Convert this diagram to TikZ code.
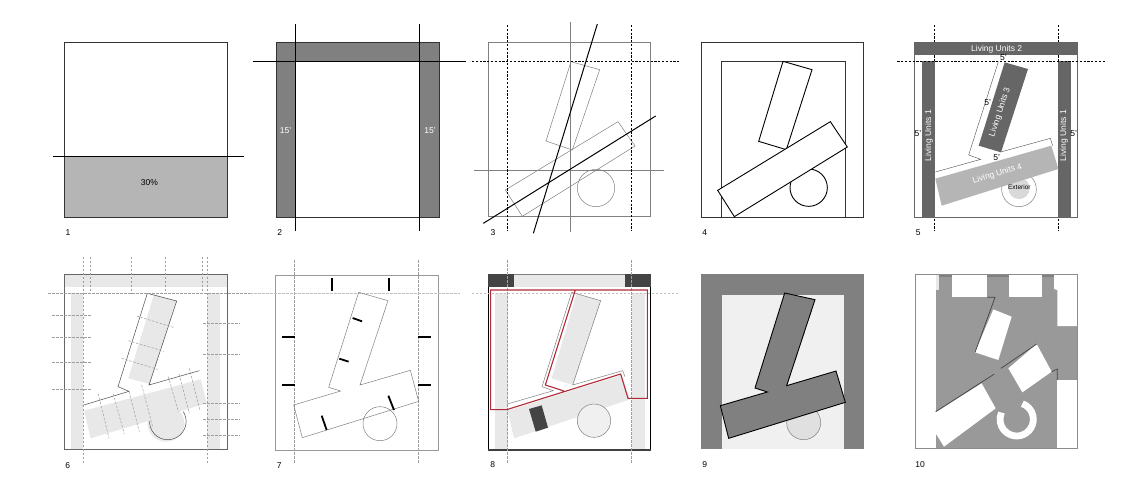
\documentclass[tikz,border=0pt]{standalone}
\usepackage{fontspec}
\setmainfont{Liberation Sans}
\definecolor{band}{HTML}{808080}
\definecolor{dark}{HTML}{666666}
\definecolor{mid}{HTML}{B5B5B5}
\definecolor{pale}{HTML}{E8E8E8}
\definecolor{paler}{HTML}{F0F0F0}
\definecolor{ink}{HTML}{444444}
\definecolor{redline}{HTML}{B02A37}
\definecolor{plan}{HTML}{999999}
\tikzset{
 zoomed/.style={x=0.33333pt,y=-0.33333pt},
 txt/.style={font=\fontsize{8.5}{10}\selectfont,inner sep=0pt},
 wtxt/.style={txt,text=white},
 frame/.style={draw=black!80,line width=0.9pt},
 guide/.style={draw=black,line width=0.9pt},
 thin gray/.style={draw=black!50,line width=0.5pt},
 dashline/.style={draw=black,line width=0.8pt,dash pattern=on 2.2pt off 1.6pt},
 softdash/.style={draw=black!38,line width=0.5pt,dash pattern=on 2.5pt off 1.5pt},
 tick/.style={draw=black,line width=1.8pt},
}
\begin{document}
\begin{tikzpicture}[x=1pt,y=-1pt]
\useasboundingbox (0,0) rectangle (1142,483);
\fill[white] (0,0) rectangle (1142,483);

% ---- panels 1 and 2
\begin{scope}[shift={(30,20)},zoomed]
\fill[mid] (103,408) rectangle (592,591);
\draw[frame] (103,66) rectangle (592,591);
\draw[guide] (68,408) -- (641,408);
\node[txt] (n30) at (358,489) {30\%};
\node[txt] (lab1) at (114,637) {1};
\fill[band] (739,66) rectangle (1227,124);
\fill[band] (739,124) rectangle (797,591);
\fill[band] (1168,124) rectangle (1227,591);
\draw[frame] (739,66) rectangle (1227,591);
\draw[guide] (797,12) -- (797,634);
\draw[guide] (1168,12) -- (1168,634);
\draw[guide] (668,124) -- (1307,124);
\node[wtxt] (f1) at (767,331) {15'};
\node[wtxt] (f2) at (1200,331) {15'};
\node[txt] (lab2) at (749,638) {2};
\end{scope}

% ---- panel 3
\begin{scope}[shift={(470,10)},zoomed]
\draw[thin gray] (55,97) rectangle (542,619);
\draw[thin gray] (301,36) -- (301,666);
\draw[thin gray] (12,481) -- (582,481);
\draw[thin gray] (303,155) -- (389,179) -- (307,420) -- (228,393) -- cycle;
\draw[thin gray] (106,540) -- (444,335) -- (495,408) -- (157,619) -- cycle;
\draw[thin gray] (378,534) circle[radius=56];
\draw[dashline] (113,45) -- (113,662);
\draw[dashline] (485,45) -- (485,662);
\draw[dashline] (6,155) -- (627,155);
\draw[guide,line width=1pt] (382,42) -- (190,670);
\draw[guide,line width=1pt] (40,640) -- (557,318);
\node[txt] (lab3) at (69,668) {3};
\end{scope}

% ---- panel 4
\begin{scope}[shift={(690,20)},zoomed]
\draw[frame] (34,67) rectangle (521,591);
\draw[frame] (94,124) -- (94,591);
\draw[frame] (466,591) -- (466,124) -- (94,124);
\draw[guide] (356,503) circle[radius=56];
\draw[guide,fill=white] (279,124) -- (366,149) -- (289,389) -- (206,364) -- cycle;
\draw[guide,fill=white] (83,511) -- (421,305) -- (472,381) -- (133,590) -- cycle;
\node[txt] (lab4) at (44,638) {4};
\end{scope}

% ---- panel 5
\begin{scope}[shift={(890,25)},zoomed]
\draw[dashline] (134,0) -- (134,617);
\draw[dashline] (505,0) -- (505,617);
\fill[dark] (74,52) rectangle (562,90);
\fill[dark] (96,108) rectangle (134,577);
\fill[dark] (504,108) rectangle (542,577);
\draw[frame,draw=black!60] (74,52) rectangle (562,577);
\draw[dashline] (22,109) -- (644,109);
\draw[black!70,line width=0.4pt] (325,110) -- (236,390) -- (272,403) -- (136,441);
\draw[black!70,line width=0.4pt] (332,381) -- (481,340) -- (488,362);
\draw[thin gray] (387,493) circle[radius=52];
\fill[black!15] (387,490) circle[radius=32];
\fill[dark] (344,112) -- (414,132) -- (333,382) -- (266,362) -- cycle;
\fill[mid] (136,461) -- (484,362) -- (505,432) -- (155,542) -- cycle;
\node[wtxt] (u2) at (320,72) {Living Units 2};
\node[wtxt,rotate=90] (u1a) at (117,332) {Living Units 1};
\node[wtxt,rotate=90] (u1b) at (522,332) {Living Units 1};
\node[wtxt,rotate=72] (u3) at (330,262) {Living Units 3};
\node[wtxt,rotate=17] (u4) at (322,447) {Living Units 4};
\node[txt,font=\fontsize{6.5}{8}\selectfont] (ext) at (388,488) {Exterior};
\node[txt] (d1) at (340,97) {5'};
\node[txt] (d2) at (293,232) {5'};
\node[txt] (d3) at (84,327) {5'};
\node[txt] (d4) at (551,327) {5'};
\node[txt] (d5) at (320,398) {5'};
\node[txt] (lab5) at (85,622) {5};
\end{scope}

% ---- panel 6
\begin{scope}[shift={(30,250)},zoomed]
\fill[pale] (103,73) rectangle (591,110);
\fill[pale] (123,130) rectangle (160,598);
\fill[pale] (532,130) rectangle (570,598);
\fill[pale] (372,133) -- (440,153) -- (360,402) -- (295,385) -- cycle;
\fill[pale] (162,482) -- (512,388) -- (530,460) -- (182,565) -- cycle;
\fill[pale] (408,520) circle[radius=55];
\draw[frame,draw=black!60] (103,73) rectangle (591,598);
\draw[black!70,line width=0.5pt] (352,130) -- (440,153) -- (357,405) -- (508,362);
\draw[black!70,line width=0.5pt] (352,130) -- (264,410) -- (297,424) -- (158,466);
\draw[black!70,line width=0.5pt] (460,485) arc[start angle=-32,end angle=180,radius=55] ;
\foreach \x/\a/\b in {160/20/640,181/20/132,304/20/132,407/20/132,517/20/132,532/20/640}
  \draw[softdash] (\x,\a) -- (\x,\b);
\draw[softdash] (54,130) -- (660,130);
\foreach \y in {196,262,336,417} \draw[softdash] (66,\y) -- (182,\y);
\foreach \y in {221,314,460,508,556} \draw[softdash] (520,\y) -- (630,\y);
\draw[softdash] (320,198) -- (430,232);
\draw[softdash] (295,272) -- (402,304);
\draw[softdash] (275,325) -- (383,358);
\draw[softdash] (205,432) -- (237,565);
\draw[softdash] (250,432) -- (283,552);
\draw[softdash] (297,424) -- (328,545);
\draw[softdash] (335,405) -- (368,530);
\draw[softdash] (415,380) -- (445,485);
\draw[softdash] (447,372) -- (478,490);
\draw[softdash] (478,355) -- (510,482);
\node[txt] (lab6) at (113,646) {6};
\end{scope}

% ---- panel 7
\begin{scope}[shift={(250,260)},zoomed]
\draw[frame,draw=black!40] (76,46) rectangle (564,570);
\draw[softdash] (134,0) -- (134,610);
\draw[softdash] (505,0) -- (505,610);
\draw[softdash,draw=black!25] (0,100) -- (630,100);
\draw[thin gray] (326,97) -- (414,122) -- (330,375) -- (481,331) -- (506,424) -- (157,533) -- (131,435) -- (272,393) -- (236,382) -- cycle;
\draw[thin gray] (390,491) circle[radius=51];
\draw[tick] (246,55) -- (246,92);
\draw[tick] (416,55) -- (416,92);
\draw[tick] (97,230) -- (134,230);
\draw[tick] (97,374) -- (134,374);
\draw[tick] (505,230) -- (544,230);
\draw[tick] (505,374) -- (544,374);
\draw[tick] (308,174) -- (336,184);
\draw[tick] (268,296) -- (296,305);
\draw[tick] (415,407) -- (432,450);
\draw[tick] (215,467) -- (230,510);
\node[txt] (lab7) at (88,616) {7};
\end{scope}

% ---- panel 8
\begin{scope}[shift={(470,260)},zoomed]
\fill[pale] (132,43) rectangle (465,82);
\fill[pale] (75,100) rectangle (113,570);
\fill[pale] (485,100) rectangle (524,570);
\fill[pale] (320,100) -- (392,122) -- (308,375) -- (245,355) -- cycle;
\fill[pale] (113,452) -- (455,345) -- (480,418) -- (132,535) -- cycle;
\fill[ink] (55,43) rectangle (132,82);
\fill[ink] (465,43) rectangle (542,82);
\draw[thin gray] (132,43) -- (465,43);
\draw[guide] (55,82) -- (55,570);
\draw[guide] (542,82) -- (542,570);
\draw[guide,line width=1.2pt,draw=black!75] (55,570) -- (542,570);
\draw[softdash] (113,0) -- (113,610);
\draw[softdash] (485,0) -- (485,610);
\draw[softdash,draw=black!25] (5,100) -- (625,100);
\draw[thin gray] (305,97) -- (392,122) -- (308,375) -- (458,332) -- (465,350);
\draw[thin gray] (305,97) -- (216,380) -- (250,392) -- (112,432);
\fill[ink] (177,447) -- (215,436) -- (234,503) -- (197,515) -- cycle;
\draw[thin gray,fill=paler] (372,482) circle[radius=50];
\draw[redline,line width=1.1pt] (316,90) -- (62,90) -- (62,449) -- (110,449) -- (452,342) -- (474,415) -- (532,415) -- (532,90) -- (316,90) -- (226,375) -- (282,393);
\node[txt] (lab8) at (68,615) {8};
\end{scope}

% ---- panel 9
\begin{scope}[shift={(690,265)},zoomed]
\fill[band] (34,28) rectangle (521,553);
\fill[paler] (96,90) rectangle (462,553);
\draw[thin gray,fill=black!12] (341,473) circle[radius=51];
\draw[guide,fill=band] (284,84) -- (375,104) -- (290,362) -- (438,318) -- (466,412) -- (116,520) -- (91,422) -- (232,381) -- (195,369) -- cycle;
\node[txt] (lab9) at (44,600) {9};
\end{scope}

% ---- panel 10
\begin{scope}[shift={(900,265)},zoomed]
\fill[plan] (47,28) rectangle (532,550);
\fill[band] (107,28) rectangle (462,35);
\fill[white] (47,28) -- (107,28) -- (107,550) -- (47,550) -- cycle;
\fill[pale] (107,30) rectangle (118,75);
\fill[white] (155,30) rectangle (262,97);
\fill[white] (327,30) rectangle (425,97);
\fill[white] (462,30) -- (532,30) -- (532,183) -- (472,183) -- (472,75) -- (462,72) -- cycle;
\fill[white] (472,344) rectangle (532,550);
\fill[white] (280,133) -- (335,155) -- (295,285) -- (225,262) -- cycle;
\fill[white] (410,237) -- (455,320) -- (367,382) -- (325,310) -- cycle;
\fill[white] (107,442) -- (245,355) -- (287,430) -- (132,545) -- (107,505) -- cycle;
\draw[white,line width=6.8pt] (350,463) ++(-70:50) arc[start angle=-70,end angle=204,radius=50];
\draw[ink,line width=0.7pt] (107,440) -- (283,327);
\draw[ink,line width=0.7pt] (303,310) -- (410,237);
\draw[ink,line width=0.7pt] (225,262) -- (285,97) -- (262,97);
\draw[ink,line width=0.7pt] (455,320) -- (472,312) -- (472,345);
\draw[frame,draw=black!45,line width=0.7pt] (47,28) rectangle (532,550);
\node[txt] (lab10) at (60,600) {10};
\end{scope}
\end{tikzpicture}
\end{document}
